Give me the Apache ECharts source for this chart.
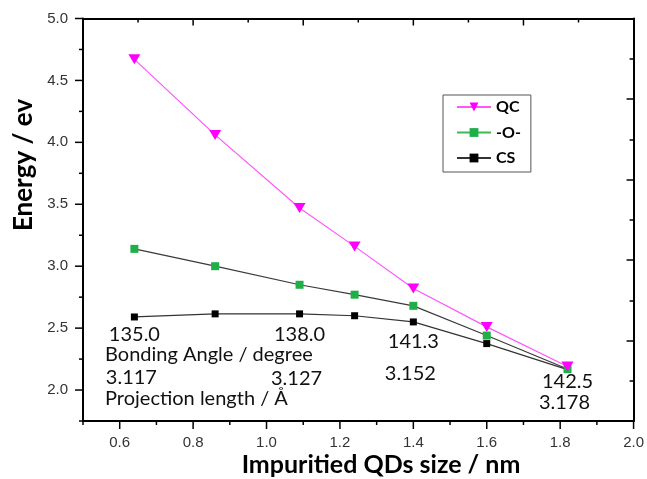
<!DOCTYPE html>
<html>
<head>
<meta charset="utf-8">
<script src="https://cdn.jsdelivr.net/npm/echarts@6/dist/echarts.min.js"></script>
<style>
html,body{margin:0;padding:0;background:#fff;}
#chart{width:647px;height:479px;}
</style>
</head>
<body>
<div id="chart"></div>
<script>
// ---- data ----
const sizes = [0.64, 0.86, 1.09, 1.24, 1.40, 1.60, 1.82];
const qcValues = [4.67, 4.06, 3.47, 3.16, 2.82, 2.51, 2.19];
const oValues  = [3.14, 3.00, 2.85, 2.77, 2.68, 2.44, 2.17];
const csValues = [2.59, 2.615, 2.615, 2.60, 2.55, 2.375, 2.165];
const seriesNames = ['QC', '-O-', 'CS'];
// tick values
const xMajorTicks = [0.6, 0.8, 1.0, 1.2, 1.4, 1.6, 1.8, 2.0];
const xMinorTicks = [0.5, 0.7, 0.9, 1.1, 1.3, 1.5, 1.7, 1.9];
const yMajorTicks = [2.0, 2.5, 3.0, 3.5, 4.0, 4.5, 5.0];
const yMinorTicks = [1.75, 2.25, 2.75, 3.25, 3.75, 4.25, 4.75];
const topDivisions = 10; // top and right frame axes: 10 unlabelled divisions
// annotations: bonding angle / projection length at selected CS points
const annoIndex = [0, 2, 4, 6];
const angleLabels = ['135.0', '138.0', '141.3', '142.5'];
const lengthLabels = ['3.117', '3.127', '3.152', '3.178'];
const angleTitle = 'Bonding Angle / degree';
const lengthTitle = 'Projection length / Å';
const xTitle = 'Impuritied QDs size / nm';
const yTitle = 'Energy / ev';

// ---- layout (data-space anchors for annotation text) ----
const angleY = [2.45, 2.45, 2.395, 2.07];
const lengthY = [2.10, 2.095, 2.135, 1.90];
const angleTitleAnchor = [0.56, 2.29];
const lengthTitleAnchor = [0.56, 1.935];

const X_MIN = 0.5, X_MAX = 2.0, Y_MIN = 1.75, Y_MAX = 5.0;

const chart = echarts.init(document.getElementById('chart'), null, {renderer: 'canvas'});

const pairs = v => sizes.map((x, i) => [x, v[i]]);
const tickFont = {fontFamily: 'Liberation Sans, Arial, sans-serif', fontSize: 15, color: '#333'};

// tick items: [x, y, kind]; kind 0/1 bottom major/minor, 2/3 left major/minor, 4/5 top major/minor
const tickData = [];
xMajorTicks.forEach(v => tickData.push([v, Y_MIN, 0]));
xMinorTicks.forEach(v => tickData.push([v, Y_MIN, 1]));
yMajorTicks.forEach(v => tickData.push([X_MIN, v, 2]));
yMinorTicks.forEach(v => tickData.push([X_MIN, v, 3]));
for (let k = 1; k < topDivisions; k++) {
  tickData.push([X_MIN + (X_MAX - X_MIN) * k / topDivisions, Y_MAX, k % 2 === 0 ? 4 : 5]);
}
const tickLen = [8, 4, 8, 4, 7, 4];

function renderTick(params, api) {
  const p = api.coord([api.value(0), api.value(1)]);
  const kind = api.value(2);
  const len = tickLen[kind];
  let shape;
  if (kind <= 1) shape = {x1: p[0], y1: p[1], x2: p[0], y2: p[1] + len};
  else if (kind <= 3) shape = {x1: p[0] - len, y1: p[1], x2: p[0], y2: p[1]};
  else shape = {x1: p[0], y1: p[1], x2: p[0], y2: p[1] + len};
  return {type: 'line', shape: shape, style: {stroke: '#000', lineWidth: 1.5}};
}

const option = {
  animation: false,
  backgroundColor: '#fff',
  grid: {left: 83, right: 12, top: 18.5, bottom: 58, containLabel: false},
  xAxis: [
    {type: 'value', min: X_MIN, max: X_MAX, position: 'bottom',
     axisLine: {show: true, onZero: false, lineStyle: {color: '#000', width: 2}},
     axisTick: {show: false},
     axisLabel: Object.assign({customValues: xMajorTicks, margin: 14, formatter: v => v.toFixed(1)}, tickFont),
     splitLine: {show: false}},
    {type: 'value', min: X_MIN, max: X_MAX, position: 'top',
     axisLine: {show: true, onZero: false, lineStyle: {color: '#000', width: 2}},
     axisTick: {show: false}, axisLabel: {show: false}, splitLine: {show: false}}
  ],
  yAxis: [
    {type: 'value', min: Y_MIN, max: Y_MAX, position: 'left',
     axisLine: {show: true, onZero: false, lineStyle: {color: '#000', width: 2}},
     axisTick: {show: false},
     axisLabel: Object.assign({customValues: yMajorTicks, margin: 15, formatter: v => v.toFixed(1)}, tickFont),
     splitLine: {show: false}},
    {type: 'value', min: 0, max: topDivisions, interval: 2, position: 'right',
     axisLine: {show: true, onZero: false, lineStyle: {color: '#000', width: 2}},
     axisTick: {show: true, inside: true, length: 7, lineStyle: {color: '#000', width: 1.5}},
     minorTick: {show: true, splitNumber: 2, length: 4, lineStyle: {color: '#000', width: 1.5}},
     axisLabel: {show: false}, splitLine: {show: false}}
  ],
  legend: {
    orient: 'vertical', left: 443, top: 95,
    padding: [2, 10, 4, 13],
    itemGap: 5.5, itemWidth: 34, itemHeight: 11,
    borderColor: '#555', borderWidth: 1,
    textStyle: {fontFamily: 'Lato, sans-serif', fontWeight: 'bold', fontSize: 16, color: '#000', lineHeight: 20},
    data: [
      {name: seriesNames[0]},
      {name: seriesNames[1], lineStyle: {color: '#3cba54'}},
      {name: seriesNames[2]}
    ]
  },
  series: [
    {name: 'ticks', type: 'custom', data: tickData, xAxisIndex: 0, yAxisIndex: 0,
     renderItem: renderTick, clip: false, silent: true, z: 5,
     encode: {x: 0, y: 1}},
    {name: seriesNames[0], type: 'line', data: pairs(qcValues), xAxisIndex: 0, yAxisIndex: 0,
     symbol: 'triangle', symbolRotate: 180, symbolSize: [12, 10],
     itemStyle: {color: '#ff00ff'}, lineStyle: {color: '#ff55ff', width: 1.2}, z: 3},
    {name: seriesNames[1], type: 'line', data: pairs(oValues), xAxisIndex: 0, yAxisIndex: 0,
     symbol: 'rect', symbolSize: 8,
     itemStyle: {color: '#1fae48'}, lineStyle: {color: '#3a3a3a', width: 1.2}, z: 2},
    {name: seriesNames[2], type: 'line', data: pairs(csValues), xAxisIndex: 0, yAxisIndex: 0,
     symbol: 'rect', symbolSize: 7,
     itemStyle: {color: '#000'}, lineStyle: {color: '#333', width: 1.2}, z: 1}
  ]
};
chart.setOption(option);

const annoFont = '20px Lato, sans-serif';
const g = [];
annoIndex.forEach((idx, k) => {
  const pa = chart.convertToPixel({xAxisIndex: 0, yAxisIndex: 0}, [sizes[idx], angleY[k]]);
  const pl = chart.convertToPixel({xAxisIndex: 0, yAxisIndex: 0}, [sizes[idx], lengthY[k]]);
  g.push({type: 'text', x: pa[0], y: pa[1], style: {text: angleLabels[k], font: annoFont, fill: '#111', align: 'center', verticalAlign: 'middle'}});
  g.push({type: 'text', x: pl[0] - 3, y: pl[1], style: {text: lengthLabels[k], font: annoFont, fill: '#111', align: 'center', verticalAlign: 'middle'}});
});
const pAT = chart.convertToPixel({xAxisIndex: 0, yAxisIndex: 0}, angleTitleAnchor);
const pLT = chart.convertToPixel({xAxisIndex: 0, yAxisIndex: 0}, lengthTitleAnchor);
g.push({type: 'text', x: pAT[0], y: pAT[1], style: {text: angleTitle, font: annoFont, fill: '#111', align: 'left', verticalAlign: 'middle'}});
g.push({type: 'text', x: pLT[0], y: pLT[1], style: {text: lengthTitle, font: annoFont, fill: '#111', align: 'left', verticalAlign: 'middle'}});
g.push({type: 'text', x: 381, y: 465, style: {text: xTitle, font: 'bold 25px Lato, sans-serif', fill: '#000', align: 'center', verticalAlign: 'middle'}});
g.push({type: 'text', x: 24, y: 165, rotation: Math.PI / 2, style: {text: yTitle, font: 'bold 26px Lato, sans-serif', fill: '#000', align: 'center', verticalAlign: 'middle'}});
chart.setOption({graphic: g});
</script>
</body>
</html>
